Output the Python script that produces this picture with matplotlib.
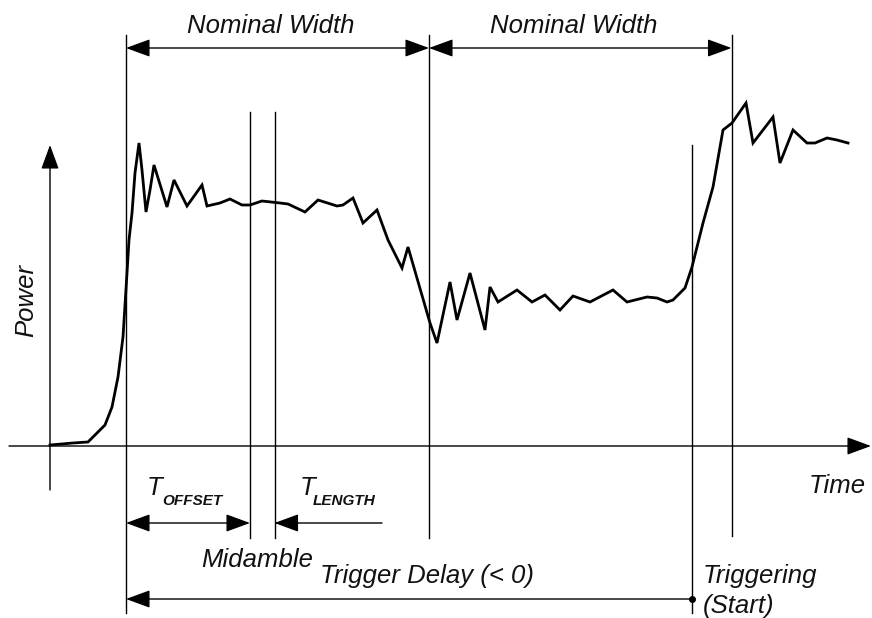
import matplotlib
matplotlib.use("Agg")
import matplotlib.pyplot as plt

# power trace of the burst (time from origin, power above the time axis)
time_pts = [0, 23, 38, 55, 62, 68, 73, 77, 79, 82, 85, 89, 92, 96, 100, 104,
            117, 124, 137, 152, 157, 170, 180, 192, 200, 212, 230, 238, 255,
            268, 287, 293, 303, 313, 327, 338, 352, 358, 380, 387, 400, 407,
            420, 435, 440, 448, 467, 482, 495, 510, 523, 540, 563, 577, 597,
            607, 617, 623, 635, 642, 653, 663, 673, 682, 696, 703, 723, 730,
            743, 757, 765, 777, 787, 798]
power_pts = [1, 3, 4, 21, 39, 69, 109, 173, 206, 233, 273, 303, 276, 234, 256,
             281, 239, 266, 240, 261, 240, 243, 247, 241, 241, 245, 243, 242,
             234, 246, 240, 241, 248, 223, 236, 206, 178, 199, 123, 103, 164,
             126, 173, 116, 159, 144, 156, 144, 151, 136, 150, 144, 156, 144,
             149, 148, 144, 146, 158, 179, 223, 259, 316, 323, 343, 303, 329,
             283, 316, 303, 303, 308, 306, 303]

# marker times
burst_start = 76
midamble_start = 200
midamble_end = 224.5
burst_second = 379
trigger_time = 641.5
burst_third = 681.5

X0, Y0 = 50, 446  # pixel position of the origin


def px(x, y):
    # pixel position (from top left) -> diagram coordinates
    return x - X0, Y0 - y


fig = plt.figure(figsize=(8.72, 6.18), dpi=100)
ax = fig.add_axes([0, 0, 1, 1])
ax.set_xlim(-X0, 872 - X0)
ax.set_ylim(Y0 - 618, Y0)
ax.axis('off')

thin = dict(color='black', lw=1.0)
font = dict(family='Liberation Sans', style='italic', color='#111111')
FS = 18.5


def vline(t, y_top, y_bot):
    ax.plot([t, t], [Y0 - y_bot, Y0 - y_top], **thin)


def arrow(start, tip, both=False):
    style = '<|-|>' if both else '-|>'
    ax.annotate('', xy=tip, xytext=start,
                arrowprops=dict(arrowstyle=style + ',head_length=1.5,head_width=0.55',
                                mutation_scale=10, color='black', lw=1.0,
                                shrinkA=0, shrinkB=0))


# axes of the diagram
arrow(px(50, 490), px(50, 145))
arrow(px(9, 446), px(871, 446))

# vertical markers
vline(burst_start, 35, 613)
vline(midamble_start, 112, 538)
vline(midamble_end, 112, 538)
vline(burst_second, 35, 538)
vline(trigger_time, 145, 613)
vline(burst_third, 35, 536)

# trace
ax.plot(time_pts, power_pts, color='black', lw=2.0, solid_joinstyle='miter')

# nominal width arrows
arrow((burst_start, Y0 - 48), (burst_second, Y0 - 48), both=True)
arrow((burst_second, Y0 - 48), (burst_third, Y0 - 48), both=True)
ax.text(*px(187, 33), 'Nominal Width', fontsize=FS, va='baseline', ha='left', **font)
ax.text(*px(490, 33), 'Nominal Width', fontsize=FS, va='baseline', ha='left', **font)

# T offset / T length
arrow((burst_start, Y0 - 523), (midamble_start, Y0 - 523), both=True)
arrow(px(382, 523), (midamble_end, Y0 - 523))
ax.text(*px(147, 495), 'T', fontsize=FS, va='baseline', ha='left', **font)
ax.text(*px(162, 505), 'OFFSET', fontsize=11, weight='bold', va='baseline', ha='left', **font)
ax.text(*px(300, 495), 'T', fontsize=FS, va='baseline', ha='left', **font)
ax.text(*px(313, 505), 'LENGTH', fontsize=11, weight='bold', va='baseline', ha='left', **font)
ax.text(*px(201, 567), 'Midamble', fontsize=FS, va='baseline', ha='left', **font)

# trigger delay
arrow((trigger_time, Y0 - 599), (burst_start, Y0 - 599))
ax.plot([trigger_time], [Y0 - 599], 'o', color='black', ms=4)
ax.text(*px(320, 583), 'Trigger Delay (< 0)', fontsize=FS, va='baseline', ha='left', **font)
ax.text(*px(703, 583), 'Triggering', fontsize=FS, va='baseline', ha='left', **font)
ax.text(*px(703, 613), '(Start)', fontsize=FS, va='baseline', ha='left', **font)

# axis labels
ax.text(*px(33, 300), 'Power', fontsize=FS, rotation=90, rotation_mode='anchor',
        va='baseline', ha='center', **font)
ax.text(*px(809, 493), 'Time', fontsize=FS, va='baseline', ha='left', **font)

fig.savefig('out.png', dpi=100, facecolor='white')
